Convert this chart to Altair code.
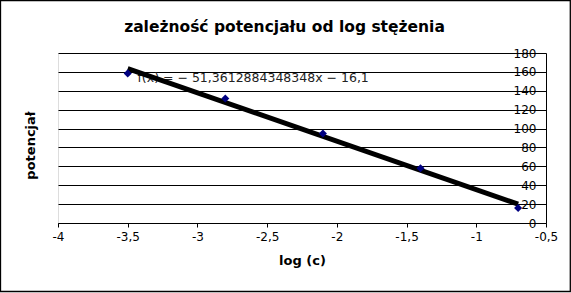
import altair as alt
import pandas as pd

log_c = [-3.5, -2.8, -2.1, -1.4, -0.7]
potencjal = [158.4, 131.8, 94.7, 58.0, 15.9]
eq_label = ["f(x) = − 51,3612884348348x − 16,1"]
eq_pos_x = [-3.43]
eq_pos_y = [153.5]
x_ticks = [-4, -3.5, -3, -2.5, -2, -1.5, -1, -0.5]
y_ticks = [0, 20, 40, 60, 80, 100, 120, 140, 160, 180]

df = pd.DataFrame({"x": log_c, "y": potencjal})
df_eq = pd.DataFrame({"x": eq_pos_x, "y": eq_pos_y, "t": eq_label})

W, H = 488, 170
FONT = "DejaVu Sans"

xs = alt.Scale(domain=[-4, -0.5], nice=False, zero=False)
ys = alt.Scale(domain=[0, 180], nice=False)

x_axis = alt.Axis(
    values=x_ticks,
    labelExpr="replace(toString(datum.value), '.', ',')",
    grid=False, domainColor="black", tickColor="black", tickSize=4,
    labelColor="black", labelFontSize=12, labelFont=FONT, labelPadding=4,
    labelOverlap=False,
    title="log (c)", titleFont=FONT, titleFontSize=13, titleFontWeight="bold",
    titleColor="black", titlePadding=12, labelFlush=False,
)
y_axis = alt.Axis(
    orient="right", values=y_ticks,
    grid=True, gridColor="black", gridWidth=1, gridOpacity=1,
    ticks=False, domainColor="black", labelOverlap=False,
    labelAlign="right", labelPadding=-10, labelBaseline="middle",
    labelColor="black", labelFontSize=12, labelFont=FONT,
    title="potencjał", titleFont=FONT, titleFontSize=13, titleFontWeight="bold",
    titleColor="black", titleAngle=-90, titleX=-516, titleY=92,
    titleAlign="center", titleBaseline="middle",
)

X = alt.X("x:Q", scale=xs, axis=x_axis)
Y = alt.Y("y:Q", scale=ys, axis=y_axis)

base = alt.Chart(df)

text = alt.Chart(df_eq).mark_text(
    align="left", baseline="middle", font=FONT, fontSize=12.5, color="#222222"
).encode(x=X, y=Y, text="t:N")

line = base.transform_regression("x", "y", extent=[-3.5, -0.7]).mark_line(
    color="black", strokeWidth=5, strokeCap="butt"
).encode(x=X, y=Y)

pts = base.mark_point(shape="diamond", filled=True, color="#000080", size=65, opacity=1).encode(
    x=X, y=Y
)

frame = alt.Chart(pd.DataFrame({"a": [0]})).mark_rect(
    fill=None, stroke="black", strokeWidth=1.3, clip=False
).encode(
    x=alt.value(-57.5), x2=alt.value(571 - 58 - 0.7),
    y=alt.value(-52.5), y2=alt.value(293 - 53 - 1.5),
)

chart = alt.layer(text, line, pts, frame).properties(
    width=W, height=H,
    title=alt.TitleParams(
        "zależność potencjału od log stężenia", font=FONT, fontSize=15.5,
        fontWeight="bold", color="black", anchor="middle", dx=-17.5, offset=-47.5,
        baseline="alphabetic",
    ),
    autosize=alt.AutoSizeParams(type="none"),
    padding={"left": 58, "top": 53, "right": 25, "bottom": 70},
).configure_view(stroke="black", strokeWidth=1).configure(background="white")

chart.save("out.html", embed_options={"renderer": "svg", "actions": False})
